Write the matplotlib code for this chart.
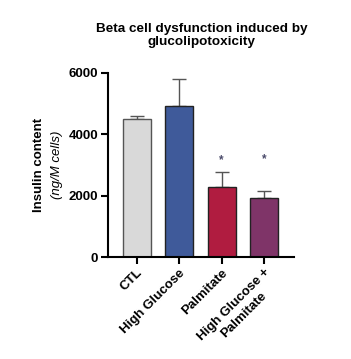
import matplotlib
matplotlib.use("Agg")
import matplotlib.pyplot as plt

categories = ["CTL", "High Glucose", "Palmitate", "High Glucose +\nPalmitate"]
means = [4500, 4900, 2290, 1930]
errors = [90, 880, 475, 220]
colors = ["#d9d9d9", "#3f5a9a", "#b01c40", "#7f3468"]
edges = ["#555555", "#222222", "#222222", "#222222"]
stars = ["", "", "*", "*"]
star_y = [0, 0, 3150, 3170]

plt.rcParams['font.family'] = ['Liberation Sans', 'DejaVu Sans']

fig = plt.figure(figsize=(3.51, 3.59), dpi=100)
ax = fig.add_axes([0.3077, 0.284, 0.5299, 0.514])
x = list(range(len(categories)))
ax.bar(x, means, width=0.66, color=colors, edgecolor=edges, linewidth=1.0, zorder=2)
ax.errorbar(x, means, yerr=[[0]*4, errors], fmt='none', ecolor='#555555',
            elinewidth=1.0, capsize=5, capthick=1.0, zorder=1)
for xi, s, sy in zip(x, stars, star_y):
    if s:
        ax.text(xi, sy, s, ha='center', va='center', fontsize=8.5,
                fontweight='bold', color='#4a4a6a')

ax.set_xlim(-0.675, 3.7)
ax.set_ylim(0, 6000)
ax.set_yticks([0, 2000, 4000, 6000])
ax.set_yticklabels(["0", "2000", "4000", "6000"], fontsize=9.5, fontweight='bold')
ax.set_xticks(x)
ax.set_xticklabels(categories, rotation=45, ha='right', rotation_mode='anchor',
                   fontsize=9.5, fontweight='bold', multialignment='center')
for sp in ['top', 'right']:
    ax.spines[sp].set_visible(False)
for sp in ['left', 'bottom']:
    ax.spines[sp].set_linewidth(1.5)
ax.tick_params(axis='both', width=1.5, length=5, direction='out', pad=2)

ax.text(-0.371, 0.5, "Insulin content", transform=ax.transAxes, rotation=90,
        ha='center', va='center', fontsize=9.5, fontweight='bold')
ax.text(-0.276, 0.5, "(ng/M cells)", transform=ax.transAxes, rotation=90,
        ha='center', va='center', fontsize=9.5, style='italic')

fig.text(0.575, 0.902, "Beta cell dysfunction induced by\nglucolipotoxicity",
         ha='center', va='center', fontsize=9.7, fontweight='bold', linespacing=1.15)

fig.savefig("out.png", dpi=100)
